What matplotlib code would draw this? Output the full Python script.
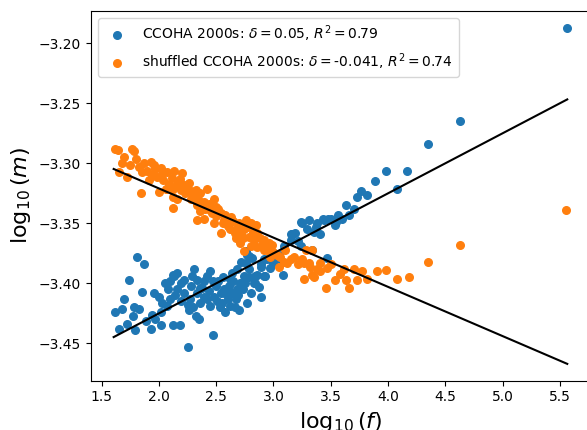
import matplotlib
matplotlib.use('Agg')
import matplotlib.pyplot as plt
import numpy as np

# CCOHA 2000s (blue)
real_logf = [
    1.62, 1.65, 1.68, 1.695, 1.72, 1.74, 1.77, 1.78, 1.79, 1.81,
    1.83, 1.855, 1.87, 1.885, 1.93, 1.94, 1.955, 2.0, 2.015, 2.03,
    2.07, 2.10, 2.10, 2.12, 2.12, 2.13, 2.16, 2.16, 2.18, 2.19,
    2.19, 2.22, 2.25, 2.256, 2.26, 2.28, 2.29, 2.305, 2.32, 2.335,
    2.35, 2.36, 2.36, 2.39, 2.39, 2.42, 2.42, 2.45, 2.45, 2.47,
    2.48, 2.495, 2.51, 2.52, 2.54, 2.55, 2.57, 2.58, 2.60, 2.61,
    2.625, 2.64, 2.64, 2.65, 2.67, 2.68, 2.68, 2.70, 2.71, 2.72,
    2.74, 2.76, 2.76, 2.77, 2.77, 2.785, 2.785, 2.80, 2.815, 2.83,
    2.84, 2.84, 2.86, 2.89, 2.89, 2.89, 2.915, 2.915, 2.93, 2.945,
    2.97, 3.0, 3.02, 3.05, 3.06, 3.08, 3.09, 3.15, 3.15, 3.16,
    3.19, 3.21, 3.24, 3.24, 3.25, 3.295, 3.31, 3.34, 3.35, 3.37,
    3.38, 3.41, 3.43, 3.44, 3.47, 3.48, 3.50, 3.54, 3.545, 3.565,
    3.60, 3.63, 3.66, 3.70, 3.73, 3.76, 3.82, 3.89, 3.98, 4.08,
    4.17, 4.35, 4.63, 5.56,
    2.05, 2.08, 2.14, 2.22, 2.27, 2.30, 2.33, 2.38, 2.44, 2.47,
    2.53, 2.56, 2.59, 2.62, 2.66, 2.69, 2.73, 2.75, 2.79, 2.87,
    1.97, 2.02]
real_logm = [
    -3.424, -3.438, -3.421, -3.413, -3.434, -3.397, -3.427, -3.420, -3.439, -3.378,
    -3.421, -3.407, -3.384, -3.431, -3.438, -3.426, -3.408, -3.411, -3.424, -3.416,
    -3.419, -3.413, -3.398, -3.435, -3.393, -3.394, -3.391, -3.405, -3.435, -3.400,
    -3.415, -3.408, -3.418, -3.453, -3.422, -3.402, -3.394, -3.388, -3.427, -3.397,
    -3.430, -3.404, -3.416, -3.398, -3.411, -3.394, -3.413, -3.390, -3.419, -3.443,
    -3.411, -3.402, -3.415, -3.398, -3.408, -3.416, -3.405, -3.424, -3.413, -3.402,
    -3.419, -3.408, -3.391, -3.398, -3.413, -3.405, -3.388, -3.422, -3.400, -3.382,
    -3.394, -3.383, -3.373, -3.416, -3.376, -3.388, -3.377, -3.408, -3.379, -3.400,
    -3.394, -3.400, -3.393, -3.411, -3.386, -3.384, -3.394, -3.380, -3.394, -3.380,
    -3.387, -3.383, -3.380, -3.376, -3.380, -3.393, -3.369, -3.364, -3.359, -3.359,
    -3.358, -3.365, -3.369, -3.349, -3.350, -3.355, -3.347, -3.372, -3.357, -3.353,
    -3.350, -3.359, -3.346, -3.347, -3.379, -3.346, -3.346, -3.351, -3.349, -3.343,
    -3.346, -3.335, -3.343, -3.338, -3.328, -3.323, -3.326, -3.315, -3.306, -3.321,
    -3.306, -3.284, -3.265, -3.187,
    -3.400, -3.405, -3.410, -3.397, -3.413, -3.420, -3.408, -3.404, -3.406, -3.398,
    -3.420, -3.395, -3.409, -3.396, -3.420, -3.410, -3.405, -3.400, -3.395, -3.403,
    -3.430, -3.435]

# shuffled CCOHA 2000s (orange)
shuf_logf = [
    1.62, 1.64, 1.78, 1.765, 1.695, 1.80, 1.68, 1.75, 1.65, 1.72,
    1.83, 1.87, 1.93, 1.955, 1.90, 1.855, 2.015, 2.07, 2.13, 2.20,
    1.94, 1.985, 1.91, 1.84, 2.0, 2.04, 2.09, 2.12, 2.06, 2.16,
    2.26, 2.19, 2.23, 2.12, 2.16, 2.12, 2.28, 2.32, 2.36, 2.42,
    2.335, 2.39, 2.48, 2.36, 2.45, 2.335, 2.39, 2.495, 2.54, 2.57,
    2.48, 2.61, 2.65, 2.54, 2.625, 2.68, 2.76, 2.74, 2.785, 2.67,
    2.83, 2.845, 2.71, 2.80, 2.86, 2.74, 2.945, 2.915, 2.99, 2.86,
    2.77, 2.80, 3.03, 3.06, 3.09, 3.05, 3.12, 3.15, 3.21, 3.265,
    3.28, 3.31, 3.32, 3.34, 3.34, 3.265, 3.35, 3.41, 3.41, 3.47,
    3.46, 3.50, 3.54, 3.615, 3.63, 3.66, 3.70, 3.73, 3.77, 3.82,
    3.90, 3.98, 4.08, 4.18, 4.35, 4.63, 5.55,
    2.22, 2.30, 2.44, 2.52, 2.58, 2.63, 2.70, 2.72, 2.88, 2.92,
    2.96, 3.0, 2.97,
    1.97, 2.03, 2.11, 2.18, 2.24, 2.28, 2.34, 2.40, 2.46, 2.50,
    2.56, 2.60, 2.66, 2.73, 2.82, 2.90, 3.10, 3.18, 3.25, 3.38,
    3.58]
shuf_logm = [
    -3.288, -3.289, -3.290, -3.288, -3.295, -3.296, -3.300, -3.301, -3.307, -3.311,
    -3.303, -3.300, -3.299, -3.301, -3.306, -3.307, -3.304, -3.307, -3.306, -3.308,
    -3.310, -3.311, -3.314, -3.325, -3.324, -3.314, -3.317, -3.321, -3.321, -3.317,
    -3.316, -3.322, -3.325, -3.328, -3.330, -3.337, -3.330, -3.322, -3.325, -3.321,
    -3.335, -3.332, -3.330, -3.340, -3.339, -3.347, -3.346, -3.344, -3.341, -3.347,
    -3.350, -3.350, -3.348, -3.358, -3.355, -3.354, -3.347, -3.355, -3.361, -3.362,
    -3.364, -3.351, -3.366, -3.369, -3.370, -3.373, -3.372, -3.364, -3.368, -3.358,
    -3.353, -3.350, -3.376, -3.378, -3.382, -3.386, -3.383, -3.380, -3.384, -3.383,
    -3.372, -3.383, -3.386, -3.372, -3.393, -3.396, -3.395, -3.390, -3.383, -3.387,
    -3.404, -3.384, -3.397, -3.388, -3.397, -3.404, -3.388, -3.397, -3.390, -3.396,
    -3.390, -3.389, -3.396, -3.395, -3.382, -3.368, -3.339,
    -3.318, -3.327, -3.334, -3.338, -3.343, -3.345, -3.350, -3.359, -3.362, -3.372,
    -3.366, -3.374, -3.378,
    -3.305, -3.309, -3.312, -3.313, -3.320, -3.323, -3.330, -3.338, -3.341, -3.336,
    -3.350, -3.352, -3.358, -3.362, -3.357, -3.368, -3.372, -3.378, -3.380, -3.388,
    -3.392]

# fitted slopes / intercepts
real_delta, real_icpt, real_r2 = 0.05, -3.525, 0.79
shuf_delta, shuf_icpt, shuf_r2 = -0.041, -3.2389, 0.74

fig = plt.figure(figsize=(5.87, 4.30), dpi=100)
ax = fig.add_axes([0.155, 0.1147, 0.850, 0.860])

ax.scatter(real_logf, real_logm, s=30, color='tab:blue',
           label=r'CCOHA 2000s: $\delta=$0.05, $R^2=$0.79')
ax.scatter(shuf_logf, shuf_logm, s=30, color='tab:orange',
           label=r'shuffled CCOHA 2000s: $\delta=$-0.041, $R^2=$0.74')

xs = np.array([1.605, 5.565])
ax.plot(xs, real_icpt + real_delta * xs, color='black')
ax.plot(xs, shuf_icpt + shuf_delta * xs, color='black')

ax.set_xlabel(r'$\log_{10}(f)$', fontsize=16)
ax.set_ylabel(r'$\log_{10}(m)$', fontsize=16)
ax.legend(loc='upper left')

fig.savefig('out.png', dpi=100)
